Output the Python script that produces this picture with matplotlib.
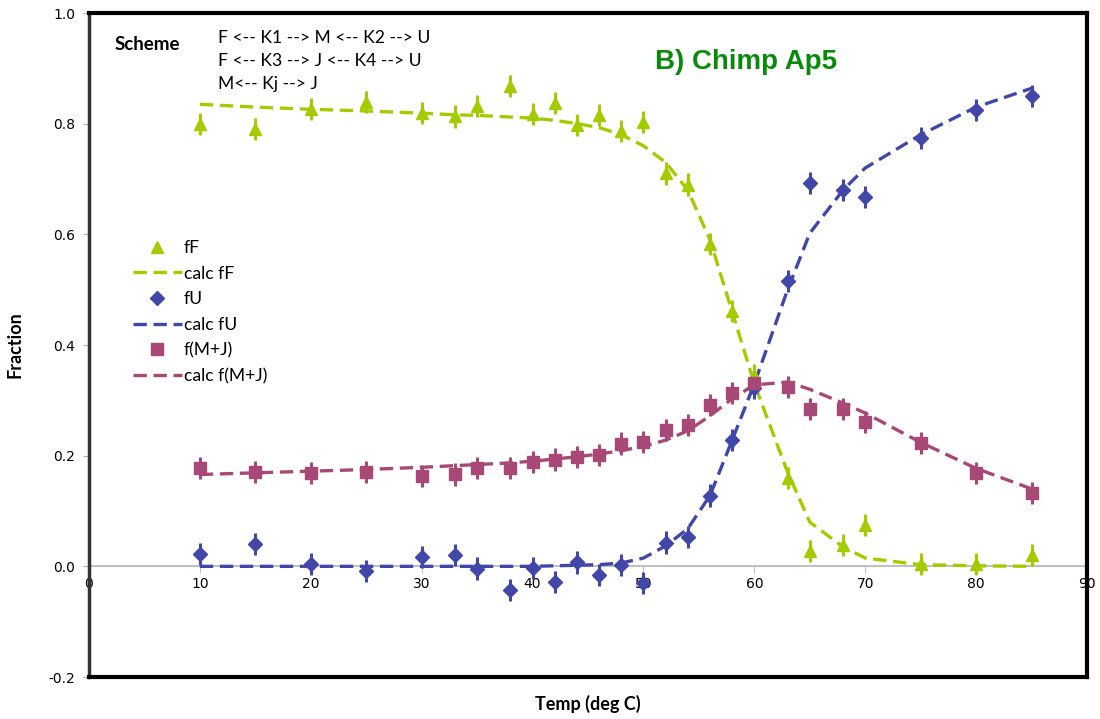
import numpy as np
import matplotlib
matplotlib.use("Agg")
import matplotlib.pyplot as plt
from matplotlib.lines import Line2D

# temperatures (deg C)
temp = [10, 15, 20, 25, 30, 33, 35, 38, 40, 42, 44, 46, 48, 50,
        52, 54, 56, 58, 60, 63, 65, 68, 70, 75, 80, 85]

# measured fractions
fF = [0.800, 0.790, 0.826, 0.839, 0.820, 0.813, 0.832, 0.868, 0.817, 0.837,
      0.797, 0.815, 0.786, 0.803, 0.710, 0.690, 0.582, 0.462, 0.345, 0.160,
      0.027, 0.038, 0.075, 0.004, 0.005, 0.020]
fU = [0.023, 0.040, 0.005, -0.009, 0.017, 0.021, -0.004, -0.042, -0.003, -0.029,
      0.007, -0.016, 0.002, -0.030, 0.043, 0.053, 0.128, 0.228, 0.322, 0.515,
      0.693, 0.680, 0.667, 0.774, 0.824, 0.850]
fMJ = [0.177, 0.170, 0.168, 0.170, 0.163, 0.166, 0.177, 0.177, 0.188, 0.193,
       0.197, 0.202, 0.222, 0.225, 0.247, 0.255, 0.291, 0.313, 0.331, 0.324,
       0.285, 0.285, 0.261, 0.223, 0.168, 0.132]
err = 0.02

# fitted curves
calc_fF = [0.835, 0.830, 0.826, 0.823, 0.819, 0.816, 0.815, 0.812, 0.810, 0.806,
           0.800, 0.793, 0.780, 0.760, 0.730, 0.680, 0.590, 0.460, 0.330, 0.170,
           0.080, 0.035, 0.015, 0.003, 0.001, 0.000]
calc_fU = [0.000, 0.000, 0.000, 0.000, 0.000, 0.000, 0.000, 0.000, 0.000, 0.001,
           0.002, 0.003, 0.006, 0.015, 0.037, 0.068, 0.128, 0.228, 0.330, 0.500,
           0.602, 0.680, 0.720, 0.780, 0.830, 0.864]
calc_fMJ = [0.166, 0.169, 0.172, 0.175, 0.179, 0.182, 0.184, 0.187, 0.190, 0.194,
            0.198, 0.203, 0.209, 0.217, 0.228, 0.245, 0.272, 0.303, 0.328, 0.333,
            0.320, 0.295, 0.277, 0.224, 0.177, 0.140]

yticks = [-0.2, 0.0, 0.2, 0.4, 0.6, 0.8, 1.0]
xticks = [0, 10, 20, 30, 40, 50, 60, 70, 80, 90]

green = "#A3CB00"
blue = "#4147A8"
plum = "#A84877"
dash = (0, (4, 2))
txt_font = ["Lato", "DejaVu Sans"]

fig = plt.figure(figsize=(11, 7.19), dpi=100)
ax = fig.add_axes([0.0809, 0.0584, 0.9073, 0.9235])

series = [
    (fF, calc_fF, green, "^", 9, "fF", "calc fF"),
    (fU, calc_fU, blue, "D", 7, "fU", "calc fU"),
    (fMJ, calc_fMJ, plum, "s", 9, "f(M+J)", "calc f(M+J)"),
]
handles = []
for meas, calc, col, mk, ms, lab, clab in series:
    ax.errorbar(temp, meas, yerr=err, fmt=mk, color=col, ms=ms,
                elinewidth=2.2, capsize=0, zorder=3)
    ax.plot(temp, calc, color=col, lw=2.4, linestyle=dash, zorder=2)
    handles.append(Line2D([], [], color=col, marker=mk, ms=ms, linestyle="none", label=lab))
    handles.append(Line2D([], [], color=col, lw=2.4, linestyle=dash, label=clab))

ax.set_xlim(0, 90)
ax.set_ylim(-0.2, 1.0)
ax.set_yticks(yticks)
ax.set_yticklabels([f"{v:.1f}" for v in yticks])
ax.tick_params(axis="y", length=4, color="#b0b0b0", labelsize=10, pad=6)
ax.tick_params(axis="x", bottom=False, labelbottom=False)

for side in ["top", "right", "bottom"]:
    ax.spines[side].set_linewidth(3)
    ax.spines[side].set_color("black")
ax.spines["left"].set_linewidth(2.5)
ax.spines["left"].set_color("#333333")

# x axis crosses at y = 0, Excel style
loc = (0 - yticks[0]) / (yticks[-1] - yticks[0])
sec = ax.secondary_xaxis(loc)
sec.set_xticks(xticks)
sec.spines["bottom"].set_color("#c0c0c0")
sec.spines["bottom"].set_linewidth(1.5)
sec.tick_params(axis="x", length=5, color="#c0c0c0", labelsize=10, pad=3)

ax.set_xlabel("Temp (deg C)", fontsize=13, fontweight="bold", family=txt_font)
ax.xaxis.set_label_coords(0.5, -0.027)
ax.set_ylabel("Fraction", fontsize=13, fontweight="bold", family=txt_font)
ax.yaxis.set_label_coords(-0.066, 0.5)

ax.text(0.026, 0.952, "Scheme", transform=ax.transAxes, fontsize=13.5,
        fontweight="bold", family=txt_font, va="center")
scheme = ["F <-- K1 --> M <-- K2 --> U",
          "F <-- K3 --> J <-- K4 --> U",
          "M<-- Kj --> J"]
for i, line in enumerate(scheme):
    ax.text(0.129, 0.962 - i * 0.0345, line, transform=ax.transAxes,
            fontsize=12.6, family=txt_font, va="center")

ax.text(0.567, 0.926, "B) Chimp Ap5", transform=ax.transAxes, fontsize=20,
        fontweight="bold", color="#0A8A0A", family=["Liberation Sans", "DejaVu Sans"],
        va="center")

ax.legend(handles=handles, loc="upper left", bbox_to_anchor=(0.028, 0.682),
          frameon=False, prop={"family": txt_font, "size": 12.6},
          handlelength=2.8, handletextpad=0.12, labelspacing=0.55)

fig.savefig("out.png", dpi=100)
